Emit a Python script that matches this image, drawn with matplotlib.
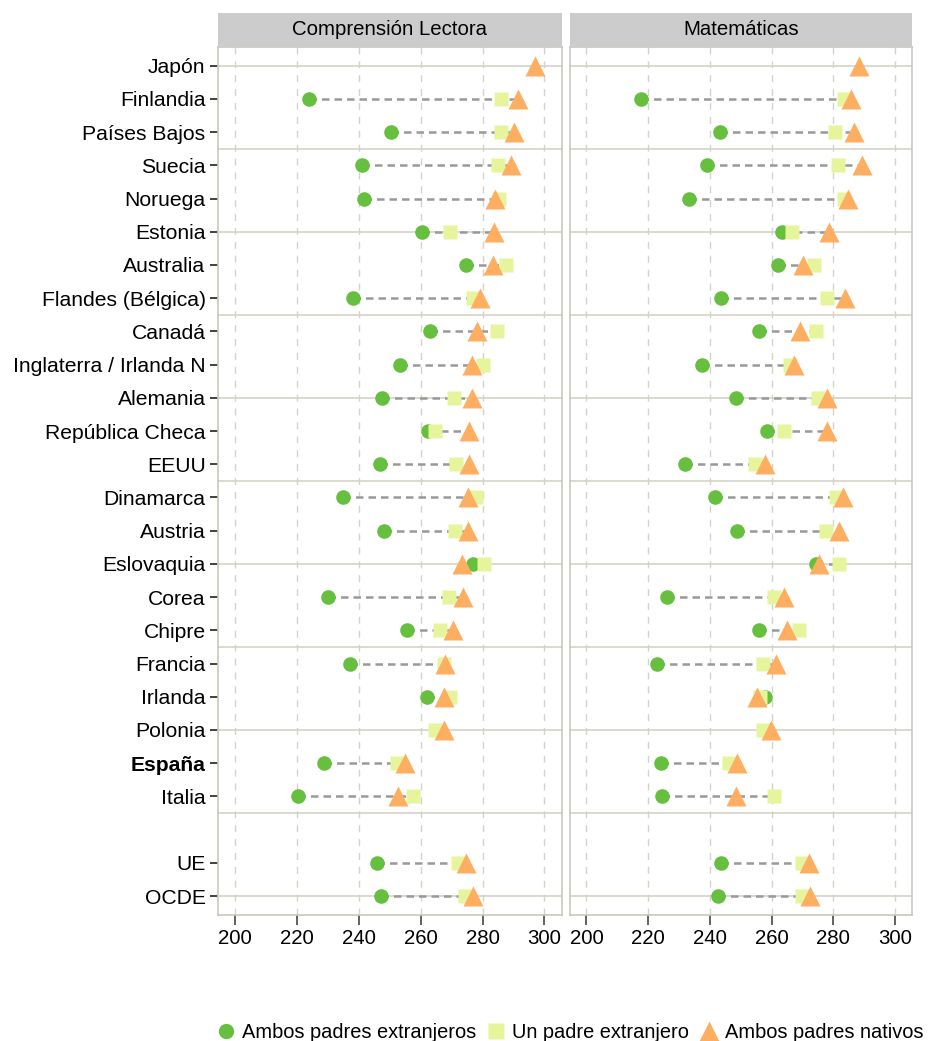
import numpy as np
import matplotlib.pyplot as plt
from matplotlib.lines import Line2D

plt.rcParams['font.family'] = ['Liberation Sans', 'DejaVu Sans']

nan = np.nan

paises = ["Japón", "Finlandia", "Países Bajos", "Suecia", "Noruega", "Estonia",
          "Australia", "Flandes (Bélgica)", "Canadá", "Inglaterra / Irlanda N",
          "Alemania", "República Checa", "EEUU", "Dinamarca", "Austria",
          "Eslovaquia", "Corea", "Chipre", "Francia", "Irlanda", "Polonia",
          "España", "Italia", "UE", "OCDE"]
posiciones = list(range(23)) + [24, 25]

# Comprension lectora
lec_ambos_ext = [nan, 223.8, 250.3, 240.9, 241.7, 260.4, 274.8, 238.1, 263.1, 253.4,
                 247.6, 262.3, 246.7, 234.8, 248.3, 277.0, 230.1, 255.7, 237.0, 262.0,
                 nan, 228.6, 220.4, 246.0, 247.3]
lec_un_ext = [nan, 286.0, 285.9, 285.1, 285.4, 269.6, 287.7, 277.0, 284.5, 280.2,
              270.8, 264.7, 271.5, 278.0, 271.2, 280.5, 269.0, 266.3, 267.4, 269.6,
              264.5, 252.3, 257.6, 272.2, 274.4]
lec_nativos = [297.0, 291.6, 290.1, 289.1, 283.9, 283.7, 283.5, 279.2, 278.1, 276.6,
               276.6, 275.6, 275.7, 275.3, 275.2, 273.5, 273.6, 270.4, 267.7, 267.6,
               267.4, 254.9, 252.6, 274.8, 276.8]

# Matematicas
mat_ambos_ext = [nan, 217.7, 243.2, 238.9, 233.1, 263.4, 262.2, 243.7, 255.9, 237.3,
                 248.5, 258.5, 231.9, 241.6, 248.9, 274.3, 226.2, 255.9, 223.0, 257.7,
                 nan, 224.1, 224.6, 243.7, 242.5]
mat_un_ext = [nan, 283.4, 280.4, 281.4, 283.4, 266.7, 273.8, 278.0, 274.3, 265.8,
              275.0, 264.1, 254.7, 281.0, 277.5, 281.8, 260.9, 269.0, 257.1, 256.2,
              257.1, 246.2, 260.7, 269.7, 269.7]
mat_nativos = [288.4, 285.7, 286.8, 289.3, 284.9, 278.6, 270.1, 283.9, 269.3, 267.3,
               278.1, 278.0, 258.0, 283.1, 281.7, 275.4, 264.1, 265.1, 261.4, 255.3,
               259.9, 248.7, 248.3, 272.2, 272.4]

xticks = [200, 220, 240, 260, 280, 300]

c_amb = '#66BF3F'
c_un = '#E6F59B'
c_nat = '#FDAE61'
c_grid = '#D3D3C7'
fs = 14.7

W, H = 930.0, 1041.0
def box(x0, y0, x1, y1):
    return [x0 / W, 1 - y1 / H, (x1 - x0) / W, (y1 - y0) / H]

fig = plt.figure(figsize=(9.3, 10.41), dpi=100)

paneles = [
    ("Comprensión Lectora", 218, 561.5, lec_ambos_ext, lec_un_ext, lec_nativos),
    ("Matemáticas", 569.5, 912, mat_ambos_ext, mat_un_ext, mat_nativos),
]

for i, (titulo, x0, x1, amb, un, nat) in enumerate(paneles):
    ax = fig.add_axes(box(x0, 46.7, x1, 915))
    strip = fig.add_axes(box(x0, 13, x1, 46.7))
    strip.set_facecolor('#CCCCCC')
    strip.set_xticks([]); strip.set_yticks([])
    for s in strip.spines.values():
        s.set_visible(False)
    strip.text(0.5, 0.5, titulo, ha='center', va='center', fontsize=fs,
               transform=strip.transAxes)

    for h in np.arange(0, 26, 2.5):
        ax.axhline(h, color=c_grid, lw=1.2, zorder=1)
    for v in xticks:
        ax.axvline(v, color=c_grid, lw=1.0, ls=(0, (5, 5)), zorder=1)

    for y, a, u, n in zip(posiciones, amb, un, nat):
        vals = [v for v in (a, u, n) if not np.isnan(v)]
        if len(vals) > 1:
            ax.plot([min(vals), max(vals)], [y, y], color='#999999', lw=1.8,
                    ls=(0, (3, 2)), zorder=2)

    ax.plot(amb, posiciones, 'o', ls='none', color=c_amb, ms=10.5, mec='none', zorder=3)
    ax.plot(un, posiciones, 's', ls='none', color=c_un, ms=10.5, mec='none', zorder=4)
    ax.plot(nat, posiciones, '^', ls='none', color=c_nat, ms=14, mec='none', zorder=5)

    ax.set_xlim(194.5, 305.5)
    ax.set_ylim(25.57, -0.57)
    ax.set_xticks(xticks)
    ax.set_xticklabels([str(t) for t in xticks], fontsize=fs)
    ax.tick_params(axis='x', length=7, width=1.3, color='#555555', pad=3)
    ax.set_yticks(posiciones)
    if i == 0:
        ax.set_yticklabels(paises, fontsize=15.2)
        ax.tick_params(axis='y', length=6, width=1.3, color='#333333', pad=3)
        for lab in ax.get_yticklabels():
            if lab.get_text() == "España":
                lab.set_fontweight('bold')
    else:
        ax.set_yticklabels([])
        ax.tick_params(axis='y', length=0)
    for s in ax.spines.values():
        s.set_color('#C8C8BC')
        s.set_linewidth(1.2)

handles = [
    Line2D([], [], marker='o', ls='none', color=c_amb, mec='none', ms=11),
    Line2D([], [], marker='s', ls='none', color=c_un, mec='none', ms=11),
    Line2D([], [], marker='^', ls='none', color=c_nat, mec='none', ms=14),
]
etiquetas = ["Ambos padres extranjeros", "Un padre extranjero", "Ambos padres nativos"]
fig.legend(handles, etiquetas, loc='center', bbox_to_anchor=(571 / W, 1 - 1032 / H),
           ncol=3, frameon=False, fontsize=14.4, handlelength=0.8, handletextpad=0.4,
           columnspacing=0.6, borderpad=0)

fig.savefig('out.png', dpi=100)
